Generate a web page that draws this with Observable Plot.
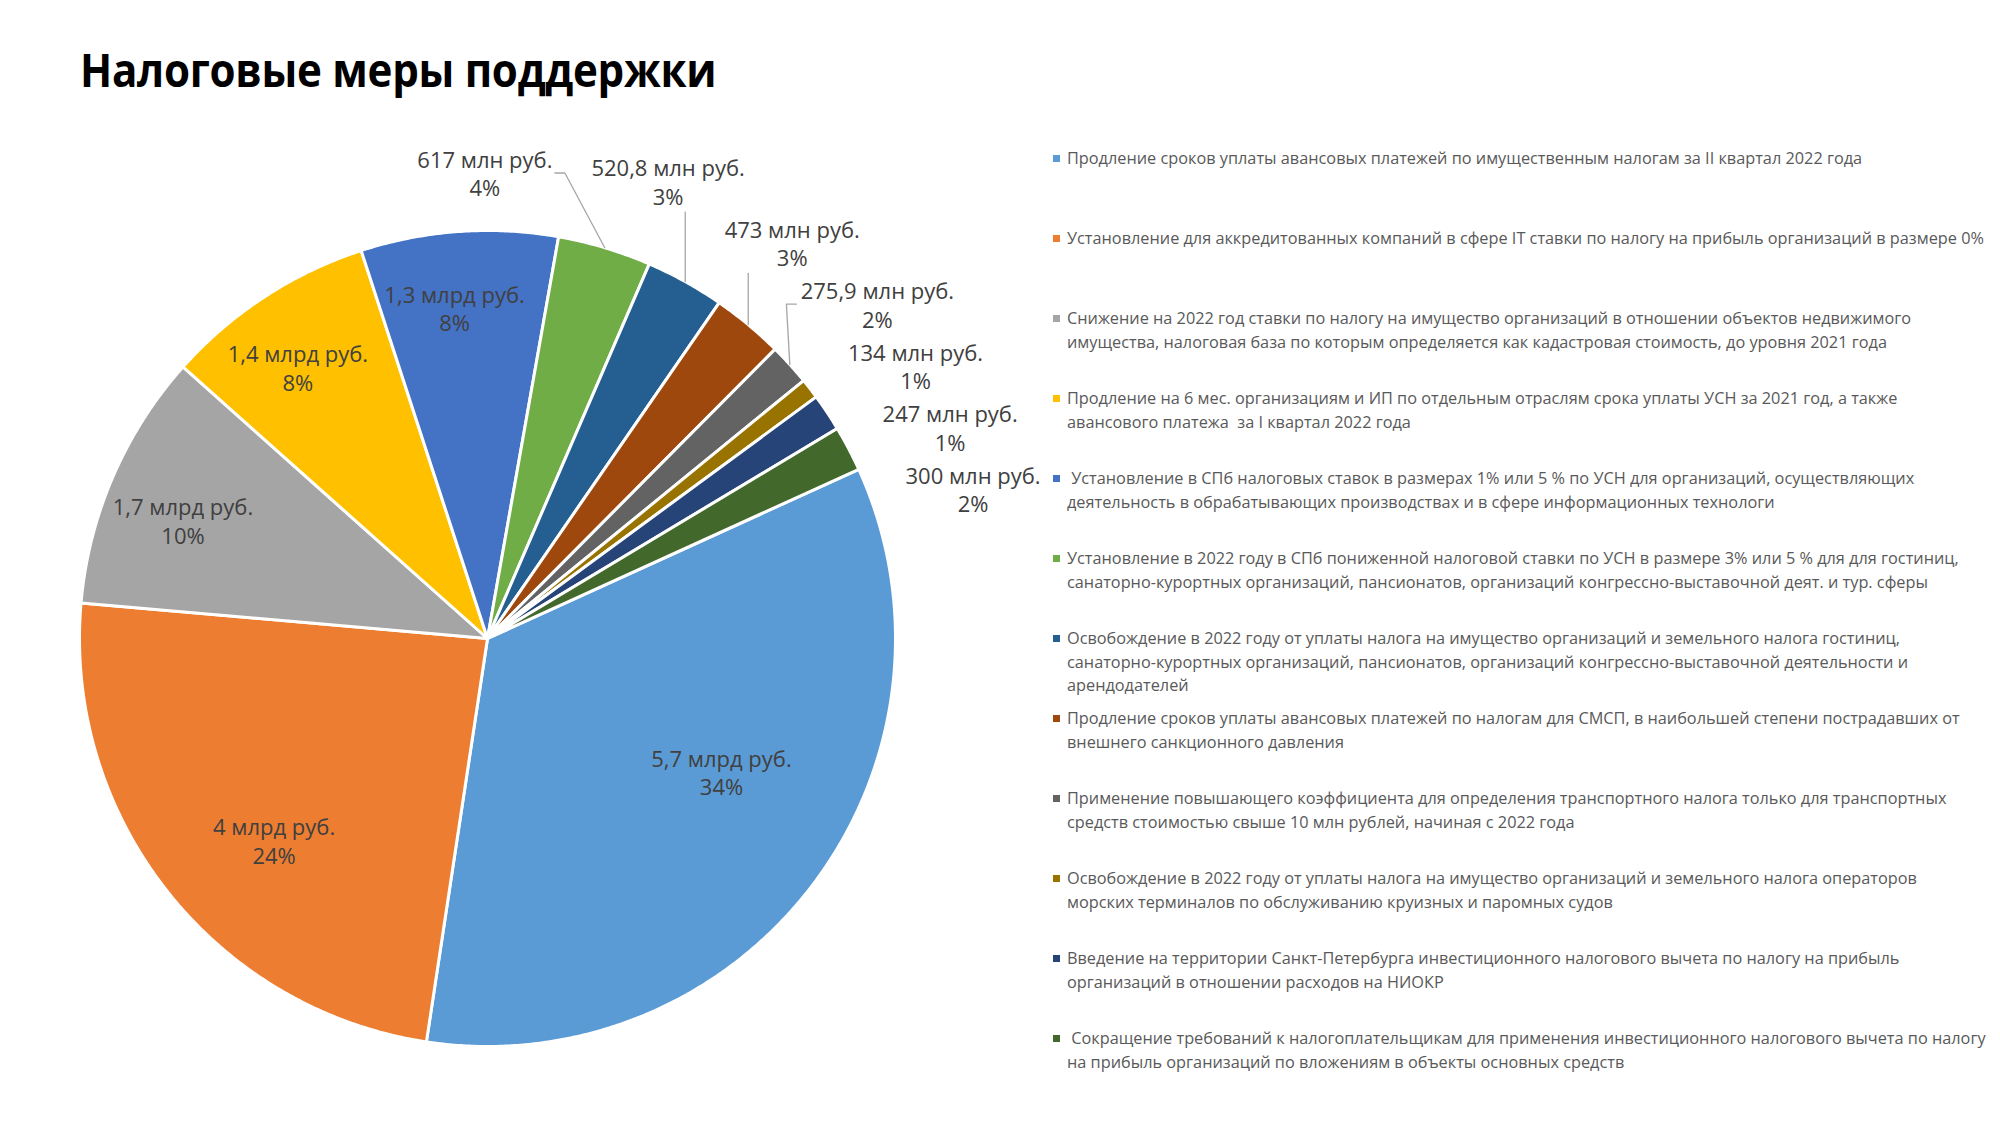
<!DOCTYPE html>
<html><head><meta charset="utf-8">
<script src="https://cdn.jsdelivr.net/npm/d3@7"></script>
<script src="https://cdn.jsdelivr.net/npm/@observablehq/plot@0.6"></script>
<style>
body{margin:0;background:#fff;width:2000px;height:1125px;overflow:hidden;position:relative;font-family:"Open Sans",sans-serif;}
#title{position:absolute;left:80px;top:46px;font-size:46px;line-height:1;font-weight:700;color:#000;letter-spacing:-0.3px;transform:scaleX(0.915);transform-origin:0 0;white-space:nowrap;}
#chart{position:absolute;left:0;top:100px;}
#chart svg{overflow:visible;}
#legend{position:absolute;left:1053px;top:147px;}
.item{height:80px;display:flex;align-items:flex-start;font-size:16.3px;line-height:23.5px;color:#595959;white-space:pre;}
.sw{width:7px;height:7px;margin-top:8px;margin-right:7px;flex:none;}
</style></head><body>
<div id="title">Налоговые меры поддержки</div>
<div id="chart"></div>
<div id="legend"></div>
<script>
const categories = [
  "Продление сроков уплаты авансовых платежей по имущественным налогам за II квартал 2022 года",
  "Установление для аккредитованных компаний в сфере IT ставки по налогу на прибыль организаций в размере 0%",
  "Снижение на 2022 год ставки по налогу на имущество организаций в отношении объектов недвижимого\nимущества, налоговая база по которым определяется как кадастровая стоимость, до уровня 2021 года",
  "Продление на 6 мес. организациям и ИП по отдельным отраслям срока уплаты УСН за 2021 год, а также\nавансового платежа  за I квартал 2022 года",
  " Установление в СПб налоговых ставок в размерах 1% или 5 % по УСН для организаций, осуществляющих\nдеятельность в обрабатывающих производствах и в сфере информационных технологи",
  "Установление в 2022 году в СПб пониженной налоговой ставки по УСН в размере 3% или 5 % для для гостиниц,\nсанаторно-курортных организаций, пансионатов, организаций конгрессно-выставочной деят. и тур. сферы",
  "Освобождение в 2022 году от уплаты налога на имущество организаций и земельного налога гостиниц,\nсанаторно-курортных организаций, пансионатов, организаций конгрессно-выставочной деятельности и\nарендодателей",
  "Продление сроков уплаты авансовых платежей по налогам для СМСП, в наибольшей степени пострадавших от\nвнешнего санкционного давления",
  "Применение повышающего коэффициента для определения транспортного налога только для транспортных\nсредств стоимостью свыше 10 млн рублей, начиная с 2022 года",
  "Освобождение в 2022 году от уплаты налога на имущество организаций и земельного налога операторов\nморских терминалов по обслуживанию круизных и паромных судов",
  "Введение на территории Санкт-Петербурга инвестиционного налогового вычета по налогу на прибыль\nорганизаций в отношении расходов на НИОКР",
  " Сокращение требований к налогоплательщикам для применения инвестиционного налогового вычета по налогу\nна прибыль организаций по вложениям в объекты основных средств"
];
// values in million rubles
const values = [5700, 4000, 1700, 1400, 1300, 617, 520.8, 473, 275.9, 134, 247, 300];
const valueLabels = ["5,7 млрд руб.", "4 млрд руб.", "1,7 млрд руб.", "1,4 млрд руб.", "1,3 млрд руб.",
  "617 млн руб.", "520,8 млн руб.", "473 млн руб.", "275,9 млн руб.", "134 млн руб.", "247 млн руб.", "300 млн руб."];
const colors = ["#5B9BD5", "#ED7D31", "#A5A5A5", "#FFC000", "#4472C4", "#70AD47",
  "#255E91", "#9E480E", "#636363", "#997300", "#264478", "#43682B"];

// layout
const W = 1060, H = 1025, CX = 487, CY = 538, R = 408;
const startAngle = 65.5; // degrees clockwise from 12 o'clock
const insideCount = 5;
const rad = a => a * Math.PI / 180;

const total = d3.sum(values);
let acc = startAngle;
const slices = values.map((v, i) => {
  const a0 = acc, a1 = acc + v / total * 360; acc = a1;
  return {i, cat: categories[i], a0, a1, mid: (a0 + a1) / 2, span: a1 - a0,
          label: valueLabels[i], pct: Math.round(v / total * 100) + "%"};
});

const rows = [];
for (const s of slices) {
  const n = Math.max(2, Math.ceil((s.a1 - s.a0) / 0.4));
  rows.push({cat: s.cat, x: 0, y: 0});
  for (let k = 0; k <= n; k++) {
    const a = rad(s.a0 + (s.a1 - s.a0) * k / n);
    rows.push({cat: s.cat, x: Math.sin(a), y: Math.cos(a)});
  }
  rows.push({cat: s.cat, x: 0, y: 0});
}

// inside labels: narrower slices push the label outward
const maxSpan = d3.max(slices, s => s.span);
const inside = slices.slice(0, insideCount).map(s => {
  const rf = 0.66 + 0.2 * (1 - s.span / maxSpan);
  const a = rad(s.mid - 0.06 * s.span);
  return {x: rf * Math.sin(a), y: rf * Math.cos(a), text: s.label + "\n" + s.pct};
});

// outside labels: box edge kept at a fixed gap from the circle, spread to avoid overlaps
const fs = 22, EDGE = 1.07 * R, PADW = 40, PADH = 4;
const outs = slices.slice(insideCount).sort((a, b) => a.mid - b.mid).map(s => ({
  s, w: s.label.length * 0.5 * fs, h: 2 * fs * 1.3
}));
const centerAt = (o, a) => {
  const sn = Math.sin(rad(a)), c = Math.cos(rad(a));
  const rc = EDGE + Math.abs(c) * o.h / 2 + Math.abs(sn) * o.w / 2;
  return [rc * sn, rc * c];
};
const overlaps = (o1, a1, o2, a2) => {
  const p = centerAt(o1, a1), q = centerAt(o2, a2);
  return Math.abs(p[0] - q[0]) < (o1.w + o2.w) / 2 + PADW && Math.abs(p[1] - q[1]) < (o1.h + o2.h) / 2 + PADH;
};
const meanMid = d3.mean(outs, o => o.s.mid);
let ang = outs.map(o => o.s.mid);
for (let it = 0; it < 40; it++) {
  for (let k = 1; k < ang.length; k++) {
    if (ang[k] < ang[k - 1]) ang[k] = ang[k - 1];
    let guard = 0;
    while (overlaps(outs[k - 1], ang[k - 1], outs[k], ang[k]) && guard++ < 900) ang[k] += 0.1;
  }
  if (it < 39) {
    const shift = meanMid - d3.mean(ang);
    ang = ang.map(a => a + shift);
  }
}
const outside = outs.map((o, k) => {
  const [px, py] = centerAt(o, ang[k]);
  return {s: o.s, x: px / R, y: py / R, text: o.s.label + "\n" + o.s.pct,
          hw: (o.w / 2 + 4) / R, hh: (o.h / 2 + 2) / R};
});

const leaders = [];
outside.forEach((o, k) => {
  const px = Math.sin(rad(o.s.mid)), py = Math.cos(rad(o.s.mid));
  if (o.y - o.hh <= py) return;
  const tick = 10 / R;
  let pts;
  if (px >= o.x - o.hw && px <= o.x + o.hw) pts = [[px, py], [px, o.y - o.hh]];
  else if (px < o.x - o.hw) pts = [[px, py], [o.x - o.hw - tick, o.y], [o.x - o.hw, o.y]];
  else pts = [[px, py], [o.x + o.hw + tick, o.y], [o.x + o.hw, o.y]];
  pts.forEach(p => leaders.push({id: k, x: p[0], y: p[1]}));
});

const chart = Plot.plot({
  width: W, height: H, margin: 0,
  x: {domain: [-CX / R, (W - CX) / R], axis: null},
  y: {domain: [-(H - CY) / R, CY / R], axis: null},
  color: {domain: categories, range: colors},
  style: {fontFamily: "Open Sans, sans-serif", background: "transparent"},
  marks: [
    Plot.line(rows, {x: "x", y: "y", z: "cat", fill: "cat", stroke: "white", strokeWidth: 3, strokeLinejoin: "round"}),
    Plot.line(leaders, {x: "x", y: "y", z: "id", stroke: "#A6A6A6", strokeWidth: 1.3}),
    Plot.text(inside, {x: "x", y: "y", text: "text", fontSize: fs, fill: "#404040", lineHeight: 1.3}),
    Plot.text(outside, {x: "x", y: "y", text: "text", fontSize: fs, fill: "#404040", lineHeight: 1.3})
  ]
});
document.getElementById("chart").appendChild(chart);

const legend = document.getElementById("legend");
categories.forEach((c, i) => {
  const item = document.createElement("div");
  item.className = "item";
  const sw = document.createElement("div");
  sw.className = "sw"; sw.style.background = colors[i];
  const t = document.createElement("div");
  t.textContent = c;
  item.appendChild(sw); item.appendChild(t);
  legend.appendChild(item);
});
</script>
</body></html>
